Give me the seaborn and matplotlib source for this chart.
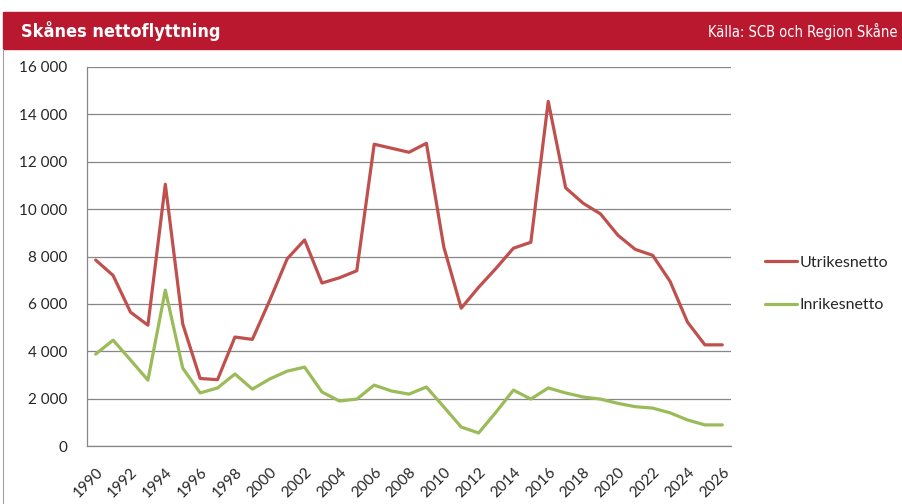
import numpy as np
import pandas as pd
import matplotlib
matplotlib.use("Agg")
import matplotlib.pyplot as plt
from matplotlib.ticker import FuncFormatter, MultipleLocator
import seaborn as sns

years = list(range(1990, 2027))
utrikes = [7850, 7200, 5650, 5100, 11050, 5150, 2850, 2800, 4600, 4500,
           6150, 7900, 8700, 6880, 7100, 7400, 12740, 12570, 12400, 12780,
           8400, 5820, 6700, 7500, 8350, 8600, 14550, 10900, 10250, 9800,
           8900, 8300, 8050, 6950, 5230, 4270, 4270]
inrikes = [3880, 4470, 3630, 2780, 6580, 3290, 2240, 2450, 3040, 2400,
           2830, 3160, 3330, 2280, 1900, 1980, 2570, 2320, 2190, 2490,
           1650, 800, 550, 1430, 2360, 1980, 2450, 2240, 2070, 1980,
           1800, 1660, 1600, 1400, 1100, 890, 890]
series_names = ["Utrikesnetto", "Inrikesnetto"]
series_colors = ["#C0504D", "#9BBB59"]

df = pd.DataFrame({"year": years * 2,
                   "value": utrikes + inrikes,
                   "serie": [series_names[0]] * len(years) + [series_names[1]] * len(years)})

sns.set_style("white")
plt.rcParams['font.family'] = ['Lato', 'DejaVu Sans']

fig = plt.figure(figsize=(9.03, 5.04), dpi=100)

# rubrikband
fig.patches.append(plt.Rectangle((3 / 903, 1 - 49 / 504), 1, 37 / 504,
                                 transform=fig.transFigure, color="#B9182F", zorder=0))
fig.text(21 / 903, 1 - 31 / 504, "Skånes nettoflyttning", color="white", fontsize=13,
         fontweight="bold", family="DejaVu Sans", fontstretch="condensed", va="center", ha="left")
fig.text(898 / 903, 1 - 31 / 504, "Källa: SCB och Region Skåne", color="white", fontsize=10.5,
         family="DejaVu Sans", fontstretch="condensed", va="center", ha="right")
# ram till vänster
fig.lines.append(plt.Line2D([3.5 / 903, 3.5 / 903], [0, 1 - 49 / 504], transform=fig.transFigure,
                            color="#A0A0A0", lw=0.8))

ax = fig.add_axes([87 / 903, 58 / 504, 644 / 903, 379 / 504])
sns.lineplot(data=df, x="year", y="value", hue="serie", palette=series_colors,
             linewidth=2.3, ax=ax, legend=False)

ax.set_xlim(1989.5, 2026.5)
ax.set_ylim(0, 16000)
ax.yaxis.set_major_locator(MultipleLocator(2000))
ax.yaxis.set_major_formatter(FuncFormatter(lambda v, p: f"{int(v):,}".replace(",", " ")))
ax.set_xticks(years[::2])
ax.set_xticklabels([str(y) for y in years[::2]], rotation=45, ha="right", rotation_mode="anchor")
ax.set_xticks(np.arange(1989.5, 2027, 1), minor=True)
ax.tick_params(axis="x", which="major", length=0, pad=14, labelsize=11)
ax.tick_params(axis="x", which="minor", length=5, color="#878787", width=0.8, direction="out")
ax.tick_params(axis="y", length=5, color="#878787", width=0.8, direction="out", labelsize=11, pad=9)
ax.grid(axis="y", color="#878787", lw=0.9)
ax.set_axisbelow(True)
for s in ["top", "right"]:
    ax.spines[s].set_visible(False)
for s in ["left", "bottom"]:
    ax.spines[s].set_color("#878787")
    ax.spines[s].set_linewidth(0.9)
ax.set_xlabel("")
ax.set_ylabel("")

handles = [plt.Line2D([], [], color=c, lw=2.3) for c in series_colors]
fig.legend(handles, series_names, loc="center left", bbox_to_anchor=(765 / 903, 1 - 284 / 504),
           frameon=False, fontsize=11.5, handlelength=2.0, handletextpad=0.15, labelspacing=1.75,
           borderpad=0, borderaxespad=0)

plt.savefig("out.png", dpi=100)
